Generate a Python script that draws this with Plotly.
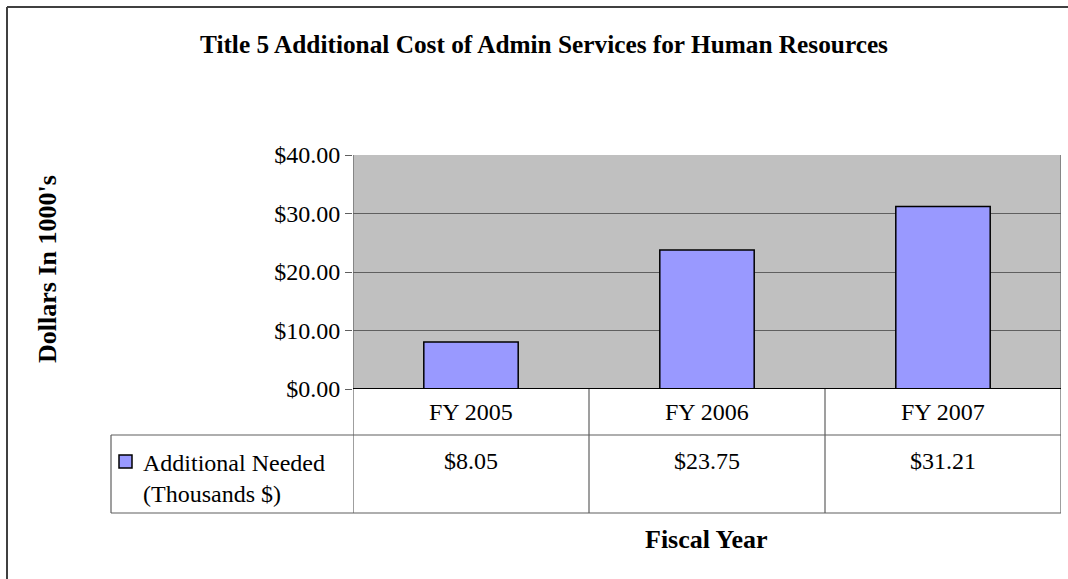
import plotly.graph_objects as go

# Data
categories = ["FY 2005", "FY 2006", "FY 2007"]
values = [8.05, 23.75, 31.21]
value_labels = ["$8.05", "$23.75", "$31.21"]
series_name = "Additional Needed<br>(Thousands $)"
y_ticks = [0, 10, 20, 30, 40]
y_tick_labels = ["$0.00", "$10.00", "$20.00", "$30.00", "$40.00"]

W, H = 1068, 579
FONT = "Liberation Serif, Times New Roman, serif"

def px_x(x):
    return x / W

def px_y(y):
    return 1 - y / H

# Plot area in pixels
PL, PR, PT, PB = 353, 1061, 155, 389
ROW1_B, ROW2_B = 435, 513
LEG_L = 111

fig = go.Figure()
fig.add_trace(go.Bar(
    x=list(range(len(categories))),
    y=values,
    width=0.4,
    marker=dict(color="#9999FF", line=dict(color="black", width=1.5)),
    showlegend=False,
    hoverinfo="skip",
))

shapes = []
gray = "#5f5f5f"
# table horizontal lines
for yy in (ROW1_B, ROW2_B):
    shapes.append(dict(type="line", xref="paper", yref="paper",
                       x0=px_x(LEG_L), x1=px_x(PR), y0=px_y(yy), y1=px_y(yy),
                       line=dict(color=gray, width=1.2)))
# legend cell left edge
shapes.append(dict(type="line", xref="paper", yref="paper",
                   x0=px_x(LEG_L), x1=px_x(LEG_L), y0=px_y(ROW1_B), y1=px_y(ROW2_B),
                   line=dict(color=gray, width=1.2)))
# column dividers (category boundaries), extended from plot into table
for i in range(len(categories) + 1):
    b = i - 0.5
    top = PT if i in (0, len(categories)) else PB
    shapes.append(dict(type="line", xref="x", yref="paper",
                       x0=b, x1=b, y0=px_y(top), y1=px_y(ROW2_B),
                       line=dict(color=gray, width=1.2)))
# baseline
shapes.append(dict(type="line", xref="paper", yref="y",
                   x0=px_x(PL), x1=px_x(PR), y0=0, y1=0,
                   line=dict(color="black", width=2)))
# legend key
shapes.append(dict(type="rect", xref="paper", yref="paper",
                   x0=px_x(119), x1=px_x(132), y0=px_y(468), y1=px_y(455),
                   fillcolor="#9999FF", line=dict(color="black", width=1.5)))
# outer frame: top and left edges
shapes.append(dict(type="line", xref="paper", yref="paper",
                   x0=px_x(7), x1=1.0, y0=px_y(7), y1=px_y(7),
                   line=dict(color="#404040", width=2)))
shapes.append(dict(type="line", xref="paper", yref="paper",
                   x0=px_x(7), x1=px_x(7), y0=px_y(7), y1=0.0,
                   line=dict(color="#404040", width=2)))

def txt(size, bold=False):
    return dict(family=FONT, size=size, color="black")

annotations = []
for i, (c, v) in enumerate(zip(categories, value_labels)):
    annotations.append(dict(x=i, xref="x", y=px_y(412), yref="paper", text=c,
                            xanchor="center", yanchor="middle",
                            showarrow=False, font=txt(24)))
    annotations.append(dict(x=i, xref="x", y=px_y(461), yref="paper", text=v,
                            xanchor="center", yanchor="middle",
                            showarrow=False, font=txt(24)))
annotations.append(dict(x=px_x(141), xref="paper", y=px_y(478), yref="paper",
                        text=series_name, xanchor="left", yanchor="middle", align="left",
                        showarrow=False, font=txt(24)))
annotations.append(dict(x=px_x(544), xref="paper", y=px_y(44), yref="paper",
                        text="<b>Title 5 Additional Cost of Admin Services for Human Resources</b>",
                        xanchor="center", yanchor="middle",
                        showarrow=False, font=txt(25.3)))
annotations.append(dict(x=px_x(706), xref="paper", y=px_y(539), yref="paper",
                        text="<b>Fiscal Year</b>", xanchor="center", yanchor="middle",
                        showarrow=False, font=txt(26)))
annotations.append(dict(x=px_x(47), xref="paper", y=px_y(269), yref="paper",
                        text="<b>Dollars In 1000's</b>", textangle=-90,
                        xanchor="center", yanchor="middle",
                        showarrow=False, font=txt(26)))

fig.update_layout(
    width=W, height=H,
    autosize=False,
    margin=dict(l=0, r=0, t=0, b=0, pad=0, autoexpand=False),
    paper_bgcolor="white",
    plot_bgcolor="#C0C0C0",
    shapes=shapes,
    annotations=annotations,
    xaxis=dict(domain=[px_x(PL), px_x(PR)], range=[-0.5, 2.5],
               showticklabels=False, showgrid=False, zeroline=False,
               showline=False, ticks="", automargin=False),
    yaxis=dict(domain=[px_y(PB), px_y(PT)], range=[0, 40],
               tickvals=y_ticks, ticktext=y_tick_labels,
               showgrid=True, gridcolor=gray, gridwidth=1.2,
               zeroline=False, showline=False, automargin=False,
               ticks="outside", ticklen=7, tickcolor=gray, tickwidth=1.2,
               tickfont=dict(family=FONT, size=24, color="black")),
)

fig.write_html("out.html")
